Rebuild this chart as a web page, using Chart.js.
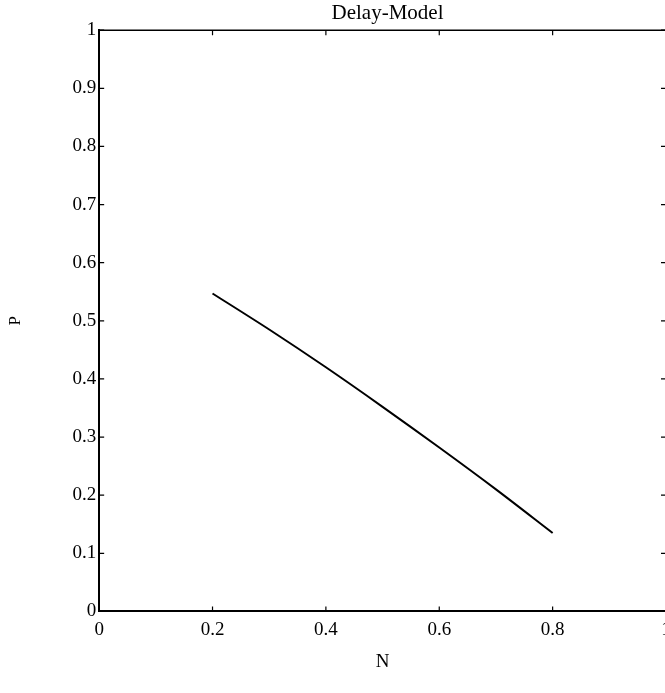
<!DOCTYPE html>
<html>
<head>
<meta charset="utf-8">
<script src="https://cdn.jsdelivr.net/npm/chart.js@4.4.1/dist/chart.umd.min.js"></script>
<style>
  html, body { margin: 0; padding: 0; background: #fff; overflow: hidden; }
  #wrap { position: absolute; left: 0; top: 0; width: 770px; height: 693px; }
</style>
</head>
<body>
<div id="wrap"><canvas id="chart"></canvas></div>
<script>
// data
const nValues = [0.2, 0.3, 0.4, 0.5, 0.6, 0.7, 0.8];
const pValues = [0.547, 0.485, 0.420, 0.352, 0.282, 0.210, 0.135];
const xTicks = [0, 0.2, 0.4, 0.6, 0.8, 1];
const yTicks = [0, 0.1, 0.2, 0.3, 0.4, 0.5, 0.6, 0.7, 0.8, 0.9, 1];

const serif = "'Liberation Serif', 'DejaVu Serif', serif";

// matlab style: box + inward ticks on all four sides
const boxTicks = {
    id: 'boxTicks',
    afterDraw(chart) {
        const ctx = chart.ctx;
        const a = chart.chartArea;
        const xs = chart.scales.x, ys = chart.scales.y;
        ctx.save();
        ctx.strokeStyle = '#000';
        ctx.lineWidth = 1.5;
        ctx.beginPath();
        ctx.moveTo(a.left, a.top);
        ctx.lineTo(a.right, a.top);
        ctx.lineTo(a.right, a.bottom);
        ctx.stroke();
        ctx.lineWidth = 1.2;
        const len = 5;
        xTicks.forEach(v => {
            const px = xs.getPixelForValue(v);
            ctx.beginPath();
            ctx.moveTo(px, a.bottom); ctx.lineTo(px, a.bottom - len);
            ctx.moveTo(px, a.top); ctx.lineTo(px, a.top + len);
            ctx.stroke();
        });
        yTicks.forEach(v => {
            const py = ys.getPixelForValue(v);
            ctx.beginPath();
            ctx.moveTo(a.left, py); ctx.lineTo(a.left + len, py);
            ctx.moveTo(a.right, py); ctx.lineTo(a.right - len, py);
            ctx.stroke();
        });
        ctx.restore();
    }
};

new Chart(document.getElementById('chart'), {
    type: 'line',
    data: {
        datasets: [{
            data: nValues.map((n, i) => ({ x: n, y: pValues[i] })),
            borderColor: '#000',
            borderWidth: 2,
            pointRadius: 0,
            tension: 0.3,
            fill: false
        }]
    },
    options: {
        responsive: true,
        maintainAspectRatio: false,
        animation: false,
        layout: { padding: { top: 0, right: 0, bottom: 20, left: 5 } },
        plugins: {
            legend: { display: false },
            tooltip: { enabled: false },
            title: {
                display: true,
                text: 'Delay-Model',
                color: '#000',
                font: { family: serif, size: 21, weight: 'normal' },
                padding: { top: 1, bottom: 4 }
            }
        },
        scales: {
            x: {
                type: 'linear',
                min: 0,
                max: 1,
                afterBuildTicks: s => { s.ticks = xTicks.map(v => ({ value: v })); },
                ticks: {
                    color: '#000',
                    font: { family: serif, size: 19 },
                    padding: 7,
                    maxRotation: 0,
                    callback: v => String(v)
                },
                grid: { display: false, drawTicks: false },
                border: { display: true, color: '#000', width: 2 },
                title: {
                    display: true,
                    text: 'N',
                    color: '#000',
                    font: { family: serif, size: 19 },
                    padding: { top: 2, bottom: 0 }
                }
            },
            y: {
                type: 'linear',
                min: 0,
                max: 1,
                afterBuildTicks: s => { s.ticks = yTicks.map(v => ({ value: v })); },
                ticks: {
                    color: '#000',
                    font: { family: serif, size: 19 },
                    padding: 3,
                    callback: v => String(v)
                },
                grid: { display: false, drawTicks: false },
                border: { display: true, color: '#000', width: 2 },
                title: {
                    display: true,
                    text: 'P',
                    color: '#000',
                    font: { family: serif, size: 17 },
                    padding: { top: 0, bottom: 44 }
                }
            },
            // empty right axis: reserves the part of the box that falls off the page
            y2: {
                type: 'linear',
                position: 'right',
                min: 0,
                max: 1,
                ticks: { display: false },
                grid: { display: false, drawTicks: false },
                border: { display: false },
                afterFit: s => { s.width = 104; }
            }
        }
    },
    plugins: [boxTicks]
});
</script>
</body>
</html>
